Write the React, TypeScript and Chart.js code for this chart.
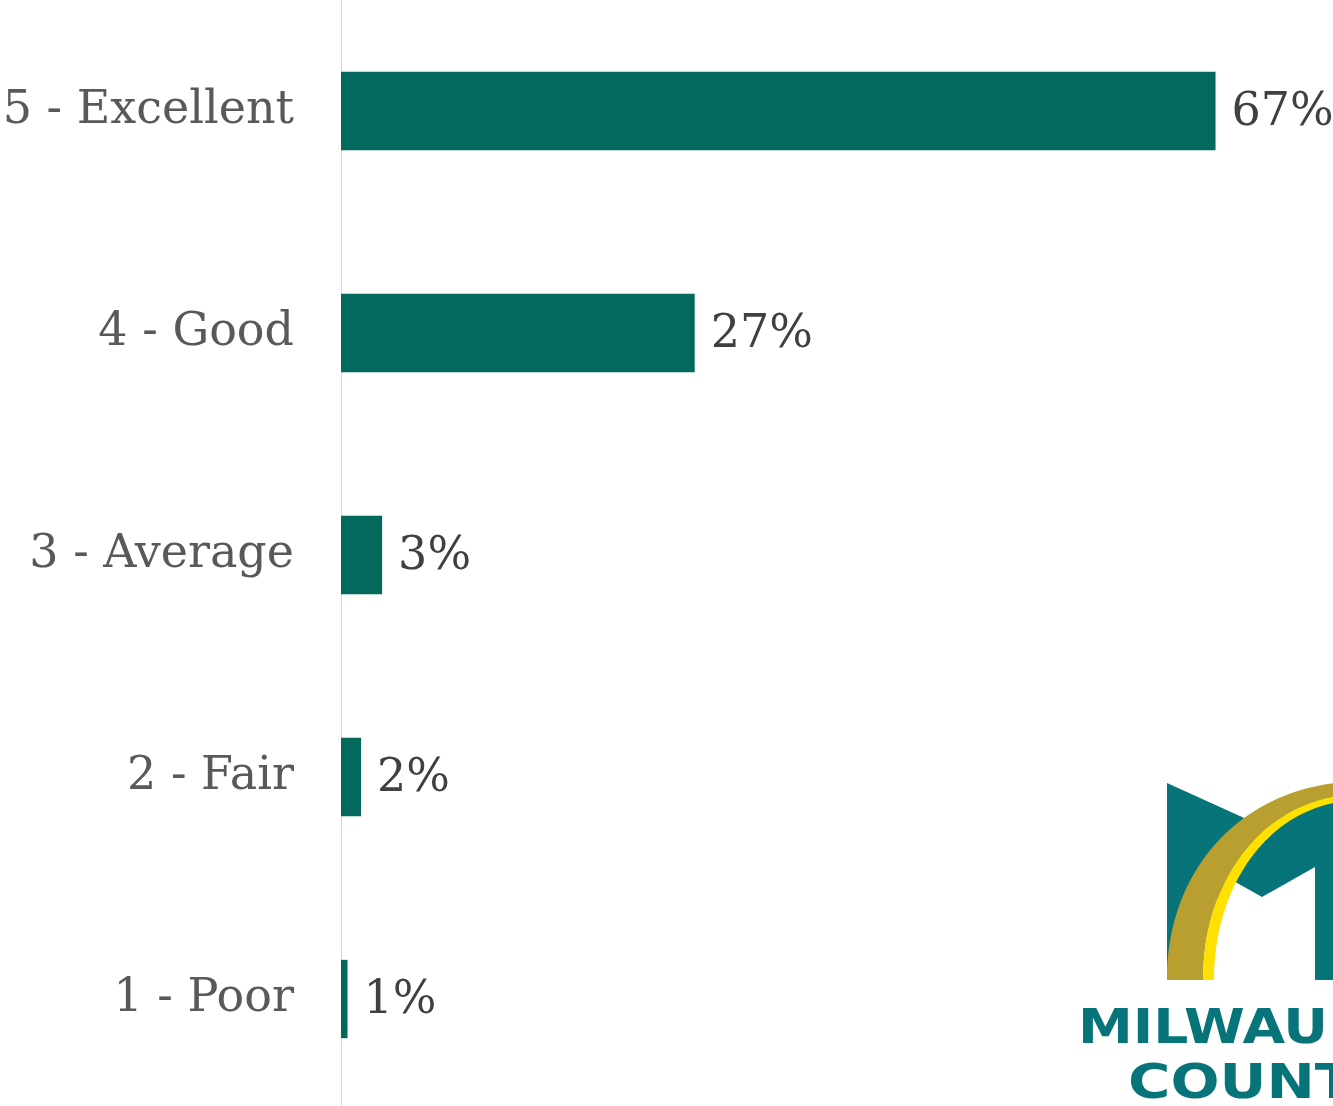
import React, { useEffect, useRef } from "react";
import { Chart, registerables } from "chart.js";

Chart.register(...registerables);

const categories = ["5 - Excellent", "4 - Good", "3 - Average", "2 - Fair", "1 - Poor"];
const values = [67.0, 27.1, 3.15, 1.54, 0.5];
const valueLabels = ["67%", "27%", "3%", "2%", "1%"];

const BAR_COLOR = "#02695C";
const FONT = "'DejaVu Serif', 'Liberation Serif', serif";

const labelPlugin = {
  id: "valueLabels",
  afterDatasetsDraw(chart: any) {
    const ctx = chart.ctx;
    const meta = chart.getDatasetMeta(0);
    ctx.save();
    ctx.font = `46px ${FONT}`;
    ctx.fillStyle = "#404040";
    ctx.textAlign = "left";
    ctx.textBaseline = "middle";
    meta.data.forEach((bar: any, i: number) => {
      ctx.fillText(valueLabels[i], bar.x + 16, bar.y + 2);
    });
    ctx.restore();
  },
};

function Logo() {
  const teal = "#077479";
  return (
    <svg
      width={1333}
      height={1106}
      style={{ position: "absolute", left: 0, top: 0, pointerEvents: "none", overflow: "hidden" }}
    >
      <polygon
        fill={teal}
        points="1167,783 1345,783 1345,980 1315,980 1315,867 1262,897 1230,879 1167,980"
      />
      <polygon fill="#ffffff" points="1160,770 1167,783 1253,822 1350,786 1350,770" />
      <path
        fill="#B89F30"
        d="M1167,980 C1167,870 1240,790 1345,782 L1345,795 C1262,803 1203,880 1203,980 Z"
      />
      <path
        fill="#FFE100"
        d="M1203,980 C1203,880 1262,803 1345,795 L1345,801 C1268,810 1214,885 1214,980 Z"
      />
      <text
        x={1078}
        y={1043}
        fill={teal}
        fontFamily="'DejaVu Sans', sans-serif"
        fontWeight="bold"
        fontSize={48}
        textLength={368}
        lengthAdjust="spacingAndGlyphs"
      >
        MILWAUKEE
      </text>
      <text
        x={1128}
        y={1098}
        fill={teal}
        fontFamily="'DejaVu Sans', sans-serif"
        fontWeight="bold"
        fontSize={48}
        textLength={268}
        lengthAdjust="spacingAndGlyphs"
      >
        COUNTY
      </text>
    </svg>
  );
}

export default function App() {
  const canvasRef = useRef<HTMLCanvasElement | null>(null);

  useEffect(() => {
    document.body.style.margin = "0";
    document.body.style.overflow = "hidden";
    const canvas = canvasRef.current;
    if (!canvas) return;
    const chart = new Chart(canvas, {
      type: "bar",
      data: {
        labels: categories,
        datasets: [
          {
            data: values,
            backgroundColor: BAR_COLOR,
            barPercentage: 0.353,
            categoryPercentage: 1,
          },
        ],
      },
      options: {
        indexAxis: "y",
        animation: false,
        responsive: true,
        maintainAspectRatio: false,
        layout: { padding: 0 },
        plugins: {
          legend: { display: false },
          tooltip: { enabled: false },
          title: { display: false },
        },
        scales: {
          x: {
            display: false,
            min: 0,
            max: 76,
          },
          y: {
            grid: { display: false, drawTicks: false },
            border: { display: true, color: "#D9D9D9", width: 1 },
            ticks: {
              padding: 47,
              color: "#595959",
              font: { family: FONT, size: 46 },
            },
            afterFit(axis: any) {
              axis.width = 341;
              axis.paddingTop = 0;
              axis.paddingBottom = 0;
            },
          },
        },
      },
      plugins: [labelPlugin],
    });
    return () => chart.destroy();
  }, []);

  return (
    <div style={{ position: "relative", width: 1333, height: 1106, overflow: "hidden" }}>
      <div style={{ position: "absolute", left: 0, top: 0, width: 1333, height: 1110 }}>
        <canvas ref={canvasRef} />
      </div>
      <Logo />
    </div>
  );
}
